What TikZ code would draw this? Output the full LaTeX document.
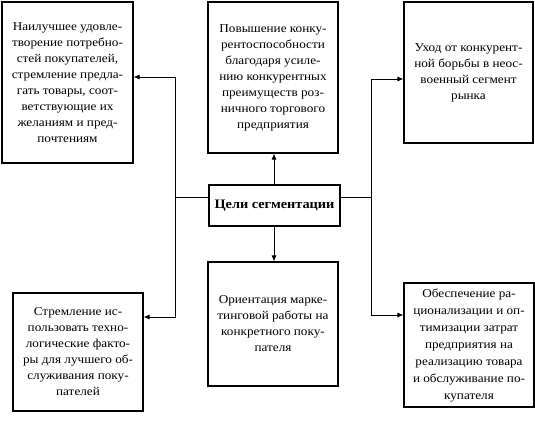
\documentclass[tikz,border=0pt]{standalone}
\usepackage{fontspec}
\setmainfont{Liberation Serif}[FakeStretch=1.1]
\usetikzlibrary{arrows.meta}
\begin{document}
\begin{tikzpicture}[x=1pt,y=-1pt,
  box/.style={draw,line width=1.1pt,inner sep=0pt,align=center,
    font=\fontsize{12}{16}\selectfont},
  conn/.style={line width=0.9pt},
  arr/.style={conn,-{Latex[length=6pt,width=5pt]}}]
\useasboundingbox (0,0) rectangle (535,420);
\node[box,minimum width=131pt,minimum height=161pt] (tl) at (67.5,82.5)
 {Наилучшее удовле-\\творение потребно-\\стей покупателей,\\стремление предла-\\гать товары, соот-\\ветствующие их\\желаниям и пред-\\почтениям};
\node[box,minimum width=130pt,minimum height=151pt] (tm) at (273,77.5)
 {Повышение конку-\\рентоспособности\\благодаря усиле-\\нию конкурентных\\преимуществ роз-\\ничного торгового\\предприятия};
\node[box,minimum width=129pt,minimum height=141pt] (tr) at (468.5,72.5)
 {Уход от конкурент-\\ной борьбы в неос-\\военный сегмент\\рынка};
\node[box,minimum width=131pt,minimum height=41pt,font=\fontsize{13}{15}\selectfont\bfseries] (c) at (274.5,205.5)
 {Цели сегментации};
\node[box,minimum width=130pt,minimum height=124pt] (bm) at (273,324)
 {Ориентация марке-\\тинговой работы на\\конкретного поку-\\пателя};
\node[box,minimum width=130pt,minimum height=118pt] (bl) at (78,352)
 {Стремление ис-\\пользовать техно-\\логические факто-\\ры для лучшего об-\\служивания поку-\\пателей};
\node[box,minimum width=130pt,minimum height=124pt,font=\fontsize{12}{17}\selectfont] (br) at (469,345)
 {Обеспечение ра-\\ционализации и оп-\\тимизации затрат\\предприятия на\\реализацию товара\\и обслуживание по-\\купателя};
\coordinate (jl) at (175,197);
\coordinate (jr) at (371,197);
\coordinate (tlin) at (175,77);
\coordinate (blin) at (175,317);
\coordinate (trin) at (371,79);
\coordinate (brin) at (371,315);
\draw[conn] (jl -| c.west) -- (jl);
\draw[conn] (jr -| c.east) -- (jr);
\draw[arr] (jl) -- (tlin) -- (tlin -| tl.east);
\draw[arr] (jl) -- (blin) -- (blin -| bl.east);
\draw[arr] (jr) -- (trin) -- (trin -| tr.west);
\draw[arr] (jr) -- (brin) -- (brin -| br.west);
\draw[arr] (c.north -| 274,0) -- (tm.south -| 274,0);
\draw[arr] (c.south -| 274,0) -- (bm.north -| 274,0);
\end{tikzpicture}
\end{document}
